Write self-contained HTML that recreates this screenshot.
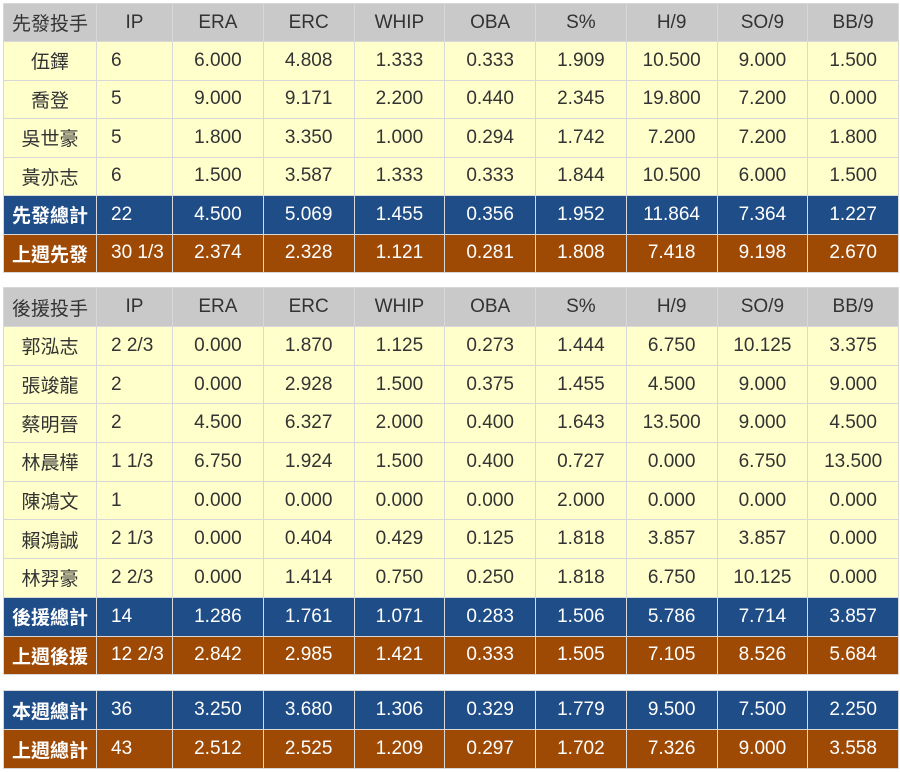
<!DOCTYPE html>
<html><head><meta charset="utf-8"><style>
body{margin:0;background:#fff;width:900px;height:772px;position:relative;font-family:"Liberation Sans","Noto Sans CJK TC",sans-serif;}
table{position:absolute;left:3px;border-collapse:collapse;table-layout:fixed;width:895px;}
td{border:1.5px solid #d8d8d8;text-align:center;font-size:19px;color:#333;padding:0;white-space:nowrap;overflow:hidden}
td:nth-child(2){text-align:left;padding-left:14px}
tr.h td{background:#c9c9c9;color:#333}
tr.y td{background:#ffffcc}
tr.b td{background:#1f4d87;color:#fff}
tr.r td{background:#9e4a05;color:#fff}
tr.b td:first-child,tr.r td:first-child{font-weight:bold}
</style></head><body>
<table style="top:3px"><colgroup><col style="width:93px"><col style="width:76px"><col span="8" style="width:90.75px"></colgroup>
<tr class="h" style="height:38px"><td>先發投手</td><td style="text-align:center;padding:0">IP</td><td>ERA</td><td>ERC</td><td>WHIP</td><td>OBA</td><td>S%</td><td>H/9</td><td>SO/9</td><td>BB/9</td></tr>
<tr class="y" style="height:38.5px"><td>伍鐸</td><td>6</td><td>6.000</td><td>4.808</td><td>1.333</td><td>0.333</td><td>1.909</td><td>10.500</td><td>9.000</td><td>1.500</td></tr>
<tr class="y" style="height:38.5px"><td>喬登</td><td>5</td><td>9.000</td><td>9.171</td><td>2.200</td><td>0.440</td><td>2.345</td><td>19.800</td><td>7.200</td><td>0.000</td></tr>
<tr class="y" style="height:38.5px"><td>吳世豪</td><td>5</td><td>1.800</td><td>3.350</td><td>1.000</td><td>0.294</td><td>1.742</td><td>7.200</td><td>7.200</td><td>1.800</td></tr>
<tr class="y" style="height:38.5px"><td>黃亦志</td><td>6</td><td>1.500</td><td>3.587</td><td>1.333</td><td>0.333</td><td>1.844</td><td>10.500</td><td>6.000</td><td>1.500</td></tr>
<tr class="b" style="height:38.5px"><td>先發總計</td><td>22</td><td>4.500</td><td>5.069</td><td>1.455</td><td>0.356</td><td>1.952</td><td>11.864</td><td>7.364</td><td>1.227</td></tr>
<tr class="r" style="height:38.5px"><td>上週先發</td><td>30 1/3</td><td>2.374</td><td>2.328</td><td>1.121</td><td>0.281</td><td>1.808</td><td>7.418</td><td>9.198</td><td>2.670</td></tr>
</table>
<table style="top:287px"><colgroup><col style="width:93px"><col style="width:76px"><col span="8" style="width:90.75px"></colgroup>
<tr class="h" style="height:39px"><td>後援投手</td><td style="text-align:center;padding:0">IP</td><td>ERA</td><td>ERC</td><td>WHIP</td><td>OBA</td><td>S%</td><td>H/9</td><td>SO/9</td><td>BB/9</td></tr>
<tr class="y" style="height:38.7px"><td>郭泓志</td><td>2 2/3</td><td>0.000</td><td>1.870</td><td>1.125</td><td>0.273</td><td>1.444</td><td>6.750</td><td>10.125</td><td>3.375</td></tr>
<tr class="y" style="height:38.7px"><td>張竣龍</td><td>2</td><td>0.000</td><td>2.928</td><td>1.500</td><td>0.375</td><td>1.455</td><td>4.500</td><td>9.000</td><td>9.000</td></tr>
<tr class="y" style="height:38.7px"><td>蔡明晉</td><td>2</td><td>4.500</td><td>6.327</td><td>2.000</td><td>0.400</td><td>1.643</td><td>13.500</td><td>9.000</td><td>4.500</td></tr>
<tr class="y" style="height:38.7px"><td>林晨樺</td><td>1 1/3</td><td>6.750</td><td>1.924</td><td>1.500</td><td>0.400</td><td>0.727</td><td>0.000</td><td>6.750</td><td>13.500</td></tr>
<tr class="y" style="height:38.7px"><td>陳鴻文</td><td>1</td><td>0.000</td><td>0.000</td><td>0.000</td><td>0.000</td><td>2.000</td><td>0.000</td><td>0.000</td><td>0.000</td></tr>
<tr class="y" style="height:38.7px"><td>賴鴻誠</td><td>2 1/3</td><td>0.000</td><td>0.404</td><td>0.429</td><td>0.125</td><td>1.818</td><td>3.857</td><td>3.857</td><td>0.000</td></tr>
<tr class="y" style="height:38.7px"><td>林羿豪</td><td>2 2/3</td><td>0.000</td><td>1.414</td><td>0.750</td><td>0.250</td><td>1.818</td><td>6.750</td><td>10.125</td><td>0.000</td></tr>
<tr class="b" style="height:38.7px"><td>後援總計</td><td>14</td><td>1.286</td><td>1.761</td><td>1.071</td><td>0.283</td><td>1.506</td><td>5.786</td><td>7.714</td><td>3.857</td></tr>
<tr class="r" style="height:38.7px"><td>上週後援</td><td>12 2/3</td><td>2.842</td><td>2.985</td><td>1.421</td><td>0.333</td><td>1.505</td><td>7.105</td><td>8.526</td><td>5.684</td></tr>
</table>
<table style="top:690px"><colgroup><col style="width:93px"><col style="width:76px"><col span="8" style="width:90.75px"></colgroup>
<tr class="b" style="height:39px"><td>本週總計</td><td>36</td><td>3.250</td><td>3.680</td><td>1.306</td><td>0.329</td><td>1.779</td><td>9.500</td><td>7.500</td><td>2.250</td></tr>
<tr class="r" style="height:39px"><td>上週總計</td><td>43</td><td>2.512</td><td>2.525</td><td>1.209</td><td>0.297</td><td>1.702</td><td>7.326</td><td>9.000</td><td>3.558</td></tr>
</table>
</body></html>
